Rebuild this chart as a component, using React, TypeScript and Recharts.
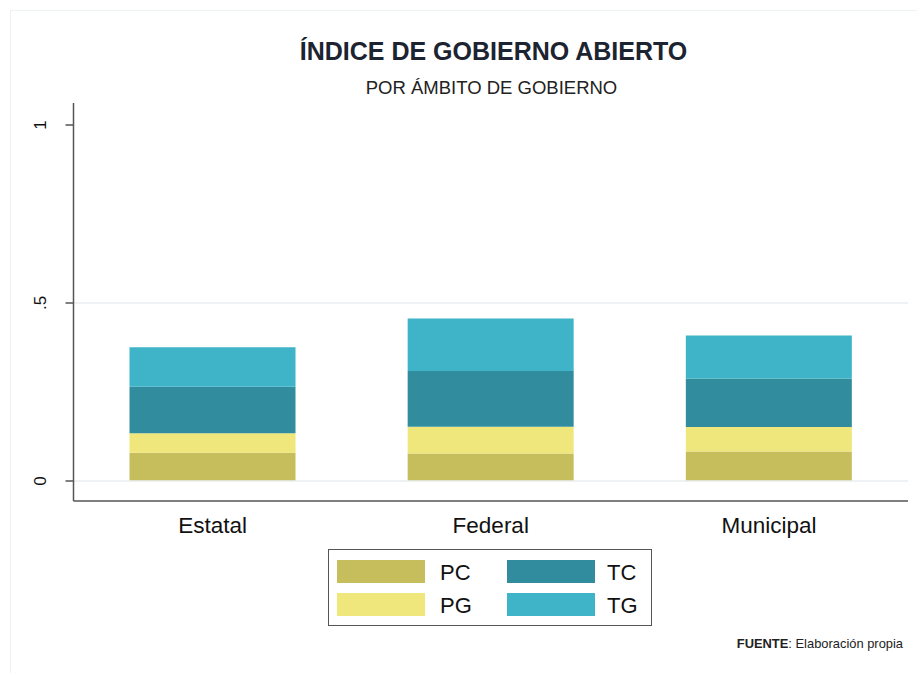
import React from "react";
import { Bar, BarChart, ReferenceLine, XAxis, YAxis } from "recharts";

const categories = ["Estatal", "Federal", "Municipal"];
const seriesKeys = ["PC", "PG", "TC", "TG"];
const seriesColors = ["#c6be5d", "#efe67c", "#318d9d", "#3fb4c8"];

const pcValues = [0.0795, 0.077, 0.083];
const pgValues = [0.0545, 0.0757, 0.069];
const tcValues = [0.131, 0.156, 0.136];
const tgValues = [0.1105, 0.148, 0.121];

const yTicks = [0, 0.5, 1];
const yTickLabels = ["0", ".5", "1"];
const gridValues = [0, 0.5];

const data = categories.map((name, i) => ({
  name,
  PC: pcValues[i],
  PG: pgValues[i],
  TC: tcValues[i],
  TG: tgValues[i]
}));

const FONT = "'Liberation Sans', Arial, Helvetica, sans-serif";

function YTick(props: any) {
  const { x, y, payload } = props;
  const idx = yTicks.indexOf(payload.value);
  const label = idx >= 0 ? yTickLabels[idx] : String(payload.value);
  const tx = x - 17;
  return (
    <text
      x={tx}
      y={y}
      transform={`rotate(-90 ${tx} ${y})`}
      textAnchor="middle"
      fontSize={17}
      fontFamily={FONT}
      fill="#111"
    >
      {label}
    </text>
  );
}

function XTick(props: any) {
  const { x, y, payload } = props;
  return (
    <text x={x} y={y + 24} textAnchor="middle" fontSize={22.5} fontFamily={FONT} fill="#111">
      {payload.value}
    </text>
  );
}

function LegendBox() {
  // two columns: PC/PG left, TC/TG right
  const rows = [
    [0, 2],
    [1, 3]
  ];
  return (
    <div
      style={{
        position: "absolute",
        left: 328,
        top: 549,
        width: 322,
        height: 75,
        border: "1.5px solid #555",
        background: "#fff",
        fontFamily: FONT
      }}
    >
      {rows.map((row, r) =>
        row.map((si, c) => (
          <React.Fragment key={seriesKeys[si]}>
            <div
              style={{
                position: "absolute",
                left: 8 + c * 170,
                top: 10 + r * 33,
                width: 88,
                height: 23,
                background: seriesColors[si]
              }}
            />
            <div
              style={{
                position: "absolute",
                left: 111 + c * 167,
                top: 10 + r * 33,
                fontSize: 22,
                lineHeight: "26px",
                color: "#111"
              }}
            >
              {seriesKeys[si]}
            </div>
          </React.Fragment>
        ))
      )}
    </div>
  );
}

export default function App() {
  return (
    <div
      style={{
        position: "absolute",
        left: 0,
        top: 0,
        width: 917,
        height: 673,
        overflow: "hidden",
        background: "#fff",
        fontFamily: FONT
      }}
    >
      <div
        style={{
          position: "absolute",
          left: 10,
          top: 10,
          width: 2000,
          height: 2000,
          border: "1px solid #edf2f3"
        }}
      />
      <div
        style={{
          position: "absolute",
          left: 0,
          width: 987,
          top: 37,
          textAlign: "center",
          fontSize: 25,
          fontWeight: 700,
          color: "#1c2331"
        }}
      >
        ÍNDICE DE GOBIERNO ABIERTO
      </div>
      <div
        style={{
          position: "absolute",
          left: 0,
          width: 983,
          top: 77,
          textAlign: "center",
          fontSize: 18.5,
          color: "#222"
        }}
      >
        POR ÁMBITO DE GOBIERNO
      </div>
      <div style={{ position: "absolute", left: 0, top: 0 }}>
        <BarChart
          width={917}
          height={673}
          data={data}
          margin={{ top: 103, right: 9, left: 14, bottom: 132 }}
        >
          {gridValues.map((v) => (
            <ReferenceLine key={v} y={v} stroke="#e8eef2" strokeWidth={1.5} />
          ))}
          <XAxis
            dataKey="name"
            height={40}
            tickLine={false}
            axisLine={{ stroke: "#555", strokeWidth: 1.5 }}
            tick={<XTick />}
          />
          <YAxis
            width={59.5}
            type="number"
            domain={[-0.0562, 1.0618]}
            ticks={yTicks}
            allowDataOverflow
            tickSize={8}
            tickLine={{ stroke: "#555", strokeWidth: 1.5 }}
            axisLine={{ stroke: "#555", strokeWidth: 1.5 }}
            tick={<YTick />}
          />
          {seriesKeys.map((k, i) => (
            <Bar
              key={k}
              dataKey={k}
              stackId="a"
              fill={seriesColors[i]}
              barSize={166}
              isAnimationActive={false}
            />
          ))}
        </BarChart>
      </div>
      <LegendBox />
      <div
        style={{
          position: "absolute",
          right: 14,
          top: 636,
          fontSize: 12.9,
          color: "#222"
        }}
      >
        <b>FUENTE</b>: Elaboración propia
      </div>
    </div>
  );
}
